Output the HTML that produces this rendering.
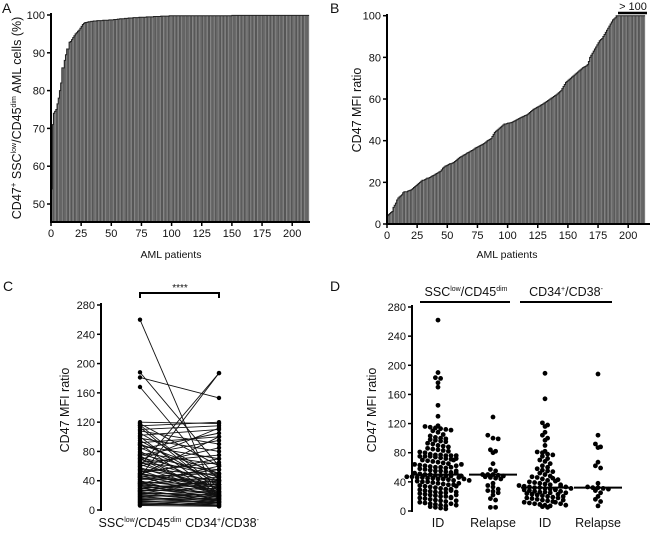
<!DOCTYPE html>
<html><head><meta charset="utf-8"><style>
body{margin:0;background:#fff;}
svg{display:block;font-family:"Liberation Sans",Arial,sans-serif;}
</style></head><body>
<svg id="fig" width="650" height="535" viewBox="0 0 650 535"></svg>
<script>
// ---------- Panel A data ----------
const aValues=[54,71,74,74.5,75,76.5,78,80,82,86,
86,88,89.5,91,91,92.8,93,93.5,94,94.5,
95,95.3,95.7,96,96.5,97,97.5,97.8,98,98,
98.1,98.2,98.2,98.3,98.3,98.4,98.4,98.4,98.5,98.5,
98.5,98.5,98.5,98.6,98.6,98.6,98.6,98.6,98.7,98.7,
98.7,98.7,98.8,98.8,98.8,98.9,98.9,99,99,99,
99,99.1,99.1,99.1,99.2,99.2,99.2,99.2,99.3,99.3,
99.3,99.3,99.3,99.4,99.4,99.4,99.4,99.4,99.4,99.5,
99.5,99.5,99.5,99.5,99.5,99.6,99.6,99.6,99.6,99.6,
99.6,99.7,99.7,99.7,99.7,99.7,99.7,99.7,99.8,99.8,
99.8,99.8,99.8,99.8,99.8,99.8,99.8,99.8,99.8,99.8,
99.8,99.8,99.8,99.8,99.8,99.8,99.8,99.8,99.8,99.8,
99.8,99.8,99.8,99.8,99.8,99.8,99.8,99.8,99.8,99.8,
99.8,99.8,99.8,99.8,99.8,99.8,99.8,99.8,99.8,99.8,
99.8,99.8,99.8,99.8,99.8,99.8,99.8,99.8,99.8,99.8,
99.9,99.9,99.9,99.9,99.9,99.9,99.9,99.9,99.9,99.9,
99.9,99.9,99.9,99.9,99.9,99.9,99.9,99.9,99.9,99.9,
99.9,99.9,99.9,99.9,99.9,99.9,99.9,99.9,99.9,99.9,
99.9,99.9,99.9,99.9,99.9,99.9,99.9,99.9,99.9,99.9,
99.9,99.9,99.9,99.9,99.9,99.9,99.9,99.9,99.9,99.9,
99.9,99.9,99.9,99.9,99.9,99.9,99.9,99.9,99.9,99.9,
99.9,99.9,99.9,99.9];
const aYTicks=[50,60,70,80,90,100];
const xTicks=[0,25,50,75,100,125,150,175,200];
// ---------- Panel B data ----------
const bValues=[4,4.5,5,5.5,6,8,9,10,11.5,12.5,
13,13.5,14,15,15.5,15.5,15.5,15.8,16,16.2,
16.5,17,17.5,18,18.5,19,19.5,20,20.5,21,
21,21.3,21.6,22,22,22.3,22.6,23,23.3,23.6,
24,24.3,24.6,25,25.3,26,26.8,27.3,27.8,28,
28.3,28.6,29,29,29.3,29.6,30,30.5,31,31.5,
32,32.3,32.6,33,33.3,33.6,34,34.3,34.6,35,
35.3,35.6,36,36.5,36.8,37,37.3,37.7,38,38.3,
38.6,39,39.5,40,40.3,40.6,41,42,43,44,
44.5,45,45.5,46,46.5,47,47.5,48,48,48.2,
48.4,48.5,48.6,48.8,49,49.3,49.6,50,50.3,50.6,
50.9,51.2,51.5,51.7,52,52.2,52.5,53,53.5,54,
54.5,55,55.3,55.6,56,56.3,56.6,57,57.3,57.6,
58,58.4,58.8,59.2,59.6,60,60.4,60.8,61.2,61.6,
62,62.5,63,63.5,64,65,66,67,68,68.5,
69,69.5,70,70.5,71,71.5,72,72.5,73,73.5,
74,74.5,75,75.3,75.6,76,76.5,78,80,81,
82,83,84,85,86,87,88,88.5,89,90,
91,92,93,94,95,96,97,98,98.5,99,
100,100,100,100,100,100,100,100,100,100,
100,100,100,100,100,100,100,100,100,100,
100,100,100,100];
const bYTicks=[0,20,40,60,80,100];
// ---------- Panel C data ----------
const cLeft=[260,188,181,168,45,60,120,118,116,115,113,110,108,105,102,100,98,95,92,90,88,85,83,80,78,76,75,74,72,70,68,66,64,62,60,58,56,55,54,52,50,49,48,47,46,45,44,42,40,39,38,37,36,35,34,33,32,30,29,28,27,26,25,24,23,22,21,20,19,18,17,16,15,14,13,12,11,10,9,8,7,6,50,42,36,30,26,70,90,65];
const cRight=[10,60,153,40,187,187,118,60,30,120,25,115,90,45,110,20,80,35,100,15,70,40,105,28,62,50,95,18,45,35,112,22,55,30,85,25,48,40,20,65,33,30,100,24,50,18,38,42,12,28,35,20,60,26,15,32,22,18,40,12,25,30,16,10,20,24,14,18,8,22,12,16,10,14,6,8,12,5,10,6,8,5,70,55,45,35,40,20,50,75];
const cYTicks=[0,40,80,120,160,200,240,280];
// ---------- Panel D data ----------
const dCategories=["ID","Relapse","ID","Relapse"];
const dID1=[262,190,183,182,176,170,145,130,117,116,115,114,113,112,111,110,108,105,103,101,100,99,98,97,96,95,93,92,90,89,88,86,85,84,83,82,81,80,78,77,77,76,76,76,75,75,75,74,73,72,71,70,69,68,67,66,65,64,63,62,61,60,60,59,58,57,56,55,55,54,53,52,51,50,50,49,49,48,48,47,47,46,46,45,45,44,44,43,42,41,40,40,39,38,37,36,36,35,34,33,32,31,30,30,29,28,27,26,25,25,24,23,22,21,20,20,19,18,17,16,15,14,13,12,11,10,9,8,7,6,5,4,3,60,62,64,70,72,55,52,48,46,44,42,38,34,28,26,22,18,14,10,8];
const dR1=[129,104,100,99,84,82,80,65,57,55,50,50,50,49,48,47,46,45,44,38,35,33,30,28,27,25,22,17,15,5,5];
const dID2=[189,154,121,118,116,108,104,100,97,90,82,81,80,78,77,75,72,70,68,65,62,60,58,56,55,54,52,50,48,47,46,44,42,40,39,38,37,36,35,34,33,32,32,31,30,30,29,28,27,26,26,25,24,23,22,21,20,19,18,17,16,15,14,13,12,11,10,9,8,7,6,5,45,43,41,36,34,33,31,29,27,25,23,20,18,15,12,10,8];
const dR2=[188,104,92,88,87,67,62,59,38,33,32,32,31,30,28,25,20,16,13,7];
const dMedians=[50,50,32,32];
const dYTicks=[0,40,80,120,160,200,240,280];

const NS="http://www.w3.org/2000/svg";
const svg=document.getElementById('fig');
function el(tag,attrs,parent){const e=document.createElementNS(NS,tag);for(const k in attrs)e.setAttribute(k,attrs[k]);(parent||svg).appendChild(e);return e;}
function txt(s,x,y,size,anchor,parent){const t=el('text',{x:x,y:y,'font-size':size,'text-anchor':anchor||'middle',fill:'#111'},parent);t.textContent=s;return t;}

// ===== Panel A =====
(function(){
const g=el('g',{});


const x0=51,ppu=1.206,y100=15,ppv=3.78,yb=222;
const xs=i=>x0+i*ppu, ys=v=>y100+(100-v)*ppv;
aValues.forEach((v,i)=>{const r=el('rect',{x:xs(i),y:ys(v),width:ppu+0.05,height:yb-ys(v),fill:i%3===0?'#7c7c7c':'#565656'},g);

});
let d='M'+xs(0)+','+ys(aValues[0]);aValues.forEach((v,i)=>{d+=' L'+xs(i)+','+ys(v)+' L'+xs(i+1)+','+ys(v);});
el('path',{d:d,fill:'none',stroke:'#222','stroke-width':1},g);
el('line',{x1:x0,y1:13,x2:x0,y2:yb+1,stroke:'#000','stroke-width':2},g);
el('line',{x1:x0-1,y1:yb,x2:310,y2:yb,stroke:'#000','stroke-width':2},g);
aYTicks.forEach(v=>{el('line',{x1:x0-4,y1:ys(v),x2:x0,y2:ys(v),stroke:'#000','stroke-width':1.5},g);txt(v,x0-6,ys(v)+4,11,'end',g);});
xTicks.forEach(v=>{el('line',{x1:xs(v),y1:yb,x2:xs(v),y2:yb+4,stroke:'#000','stroke-width':1.5},g);txt(v,xs(v),yb+15,11,'middle',g);});
const xt=txt('AML patients',171,258,10.5,'middle',g);
const yt=el('text',{x:0,y:0,'font-size':12.5,'text-anchor':'middle',transform:'translate(21,118) rotate(-90)',fill:'#111'},g);

yt.innerHTML='CD47<tspan font-size="8" dy="-5">+</tspan><tspan dy="5"> SSC</tspan><tspan font-size="7" dy="-5">low</tspan><tspan dy="5">/CD45</tspan><tspan font-size="7" dy="-5">dim</tspan><tspan dy="5"> AML cells (%)</tspan>';
txt('A',2,13,14,'start',g);
})();

// ===== Panel B =====
(function(){
const g=el('g',{});


const x0=387,ppu=1.206,y0=224,ppv=2.083;
const xs=i=>x0+i*ppu, ys=v=>y0-v*ppv;
bValues.forEach((v,i)=>{const r=el('rect',{x:xs(i),y:ys(v),width:ppu+0.05,height:y0-ys(v),fill:i%3===0?'#7c7c7c':'#565656'},g);

});
let d='M'+xs(0)+','+ys(bValues[0]);bValues.forEach((v,i)=>{d+=' L'+xs(i)+','+ys(v)+' L'+xs(i+1)+','+ys(v);});
el('path',{d:d,fill:'none',stroke:'#222','stroke-width':1},g);
el('line',{x1:x0,y1:14,x2:x0,y2:y0+1,stroke:'#000','stroke-width':2},g);
el('line',{x1:x0-1,y1:y0,x2:650,y2:y0,stroke:'#000','stroke-width':2},g);
bYTicks.forEach(v=>{el('line',{x1:x0-4,y1:ys(v),x2:x0,y2:ys(v),stroke:'#000','stroke-width':1.5},g);txt(v,x0-6,ys(v)+4,11,'end',g);});
xTicks.forEach(v=>{el('line',{x1:xs(v),y1:y0,x2:xs(v),y2:y0+4,stroke:'#000','stroke-width':1.5},g);txt(v,xs(v),y0+15,11,'middle',g);});
const br=el('line',{x1:618,y1:13,x2:647,y2:13,stroke:'#000','stroke-width':2.5},g);

txt('> 100',633,10,11,'middle',g);
const xt=txt('AML patients',507,258,10.5,'middle',g);
const yt=el('text',{x:0,y:0,'font-size':12.5,'text-anchor':'middle',transform:'translate(361,110) rotate(-90)',fill:'#111'},g);
yt.textContent='CD47 MFI ratio';

txt('B',330,13,14,'start',g);
})();

// ===== Panel C =====
(function(){
const g=el('g',{});


const x0=101,y0=510,ppv=205/280,xl=140,xr=219;
const ys=v=>y0-v*ppv;
cLeft.forEach((v,i)=>{const l=el('line',{x1:xl,y1:ys(v),x2:xr,y2:ys(cRight[i]),stroke:'#111','stroke-width':0.9},g);

});
cLeft.forEach((v,i)=>{
const a=el('circle',{cx:xl,cy:ys(v),r:2.2,fill:'#000'},g);


const b=el('circle',{cx:xr,cy:ys(cRight[i]),r:2.2,fill:'#000'},g);

});
el('line',{x1:x0,y1:303,x2:x0,y2:y0+1,stroke:'#000','stroke-width':2},g);
cYTicks.forEach(v=>{el('line',{x1:x0-4,y1:ys(v),x2:x0,y2:ys(v),stroke:'#000','stroke-width':1.5},g);txt(v,x0-6,ys(v)+4,11,'end',g);});
el('path',{d:'M140,298 V293 H219 V298',fill:'none',stroke:'#000','stroke-width':2},g);
txt('****',180,291,10,'middle',g);
const l1=el('text',{x:140,y:527,'font-size':12.5,'text-anchor':'middle',fill:'#111'},g);
l1.innerHTML='SSC<tspan font-size="7" dy="-5">low</tspan><tspan dy="5">/CD45</tspan><tspan font-size="7" dy="-5">dim</tspan>';

const l2=el('text',{x:222,y:527,'font-size':12.5,'text-anchor':'middle',fill:'#111'},g);
l2.innerHTML='CD34<tspan font-size="7" dy="-5">+</tspan><tspan dy="5">/CD38</tspan><tspan font-size="7" dy="-5">-</tspan>';

const yt=el('text',{x:0,y:0,'font-size':12.5,'text-anchor':'middle',transform:'translate(69,410) rotate(-90)',fill:'#111'},g);
yt.textContent='CD47 MFI ratio';

txt('C',3,291,14,'start',g);
})();

// ===== Panel D =====
(function(){
const g=el('g',{});


const x0=412,y0=511,ppv=204/280;
const ys=v=>y0-v*ppv;
const cx=[438,493,545,598];
const groups=[dID1,dR1,dID2,dR2];
const rowH=4.2,dx=5.2;
groups.forEach((vals,gi)=>{
  const bins={};
  vals.forEach(v=>{const b=Math.round(ys(v)/rowH);(bins[b]=bins[b]||[]).push(v);});
  Object.keys(bins).forEach(b=>{
    const arr=bins[b];const n=arr.length;
    arr.forEach((v,k)=>{
      const off=(k-(n-1)/2)*dx;
      const c=el('circle',{cx:cx[gi]+off,cy:ys(v),r:2.4,fill:'#000'},g);
      
      
    });
  });
  const m=el('line',{x1:cx[gi]-24,y1:ys(dMedians[gi]),x2:cx[gi]+24,y2:ys(dMedians[gi]),stroke:'#000','stroke-width':2},g);
  
  
  txt(dCategories[gi],cx[gi],527,12.5,'middle',g);
});
el('line',{x1:x0,y1:305,x2:x0,y2:y0+1,stroke:'#000','stroke-width':2},g);
dYTicks.forEach(v=>{el('line',{x1:x0-4,y1:ys(v),x2:x0,y2:ys(v),stroke:'#000','stroke-width':1.5},g);txt(v,x0-6,ys(v)+4,11,'end',g);});
el('line',{x1:420,y1:302,x2:510,y2:302,stroke:'#000','stroke-width':2},g);
el('line',{x1:520,y1:302,x2:612,y2:302,stroke:'#000','stroke-width':2},g);
const h1=el('text',{x:466,y:296,'font-size':12.5,'text-anchor':'middle',fill:'#111'},g);
h1.innerHTML='SSC<tspan font-size="7" dy="-5">low</tspan><tspan dy="5">/CD45</tspan><tspan font-size="7" dy="-5">dim</tspan>';

const h2=el('text',{x:566,y:296,'font-size':12.5,'text-anchor':'middle',fill:'#111'},g);
h2.innerHTML='CD34<tspan font-size="7" dy="-5">+</tspan><tspan dy="5">/CD38</tspan><tspan font-size="7" dy="-5">-</tspan>';

const yt=el('text',{x:0,y:0,'font-size':12.5,'text-anchor':'middle',transform:'translate(376,410) rotate(-90)',fill:'#111'},g);
yt.textContent='CD47 MFI ratio';

txt('D',330,291,14,'start',g);
})();
</script>
</body></html>
